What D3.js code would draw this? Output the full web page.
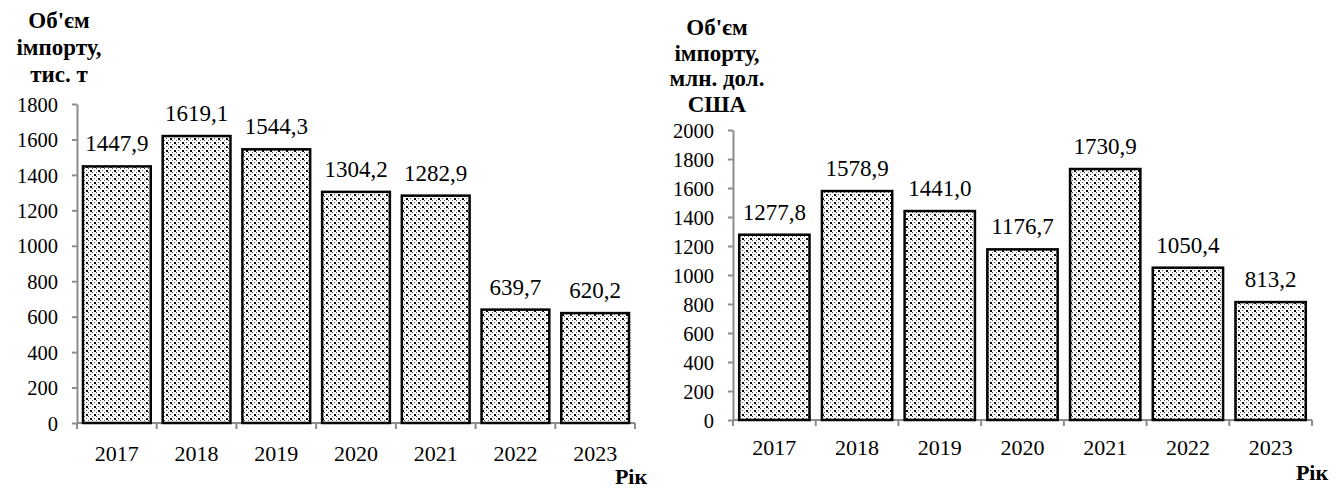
<!DOCTYPE html>
<html>
<head>
<meta charset="utf-8">
<script src="https://cdn.jsdelivr.net/npm/d3@7"></script>
<style>
  body { margin: 0; background: #fff; }
  svg text { font-family: "Liberation Serif", "Times New Roman", Tinos, "DejaVu Serif", serif; fill: #000; }
</style>
</head>
<body>
<svg id="chart" width="1343" height="490"></svg>
<script>
"use strict";

// years shared by both charts
const years = ["2017", "2018", "2019", "2020", "2021", "2022", "2023"];

// import volume, thousand tonnes
const volumeTonnes = [1447.9, 1619.1, 1544.3, 1304.2, 1282.9, 639.7, 620.2];
const tonnesTicks = [0, 200, 400, 600, 800, 1000, 1200, 1400, 1600, 1800];
const tonnesTitle = ["Об'єм", "імпорту,", "тис. т"];

// import volume, million USD
const volumeUsd = [1277.8, 1578.9, 1441.0, 1176.7, 1730.9, 1050.4, 813.2];
const usdTicks = [0, 200, 400, 600, 800, 1000, 1200, 1400, 1600, 1800, 2000];
const usdTitle = ["Об'єм", "імпорту,", "млн. дол.", "США"];

const xTitle = "Рік";

const svg = d3.select("#chart");
const FONT = "\"Liberation Serif\", \"Times New Roman\", Tinos, \"DejaVu Serif\", serif";

// dotted fill like the original hatch
const defs = svg.append("defs");
const pat = defs.append("pattern")
    .attr("id", "dots")
    .attr("patternUnits", "userSpaceOnUse")
    .attr("width", 8)
    .attr("height", 8);
pat.append("rect").attr("width", 8).attr("height", 8).attr("fill", "#fff");
[[2, 2, 2, "#000"], [6, 6, 2, "#000"],
 [0, 0, 1, "#444"], [4, 0, 1, "#666"], [0, 4, 1, "#666"], [4, 4, 1, "#444"],
 [6, 2, 1, "#555"], [2, 6, 1, "#555"]]
    .forEach(([px, py, s, c]) => {
        pat.append("rect").attr("x", px).attr("y", py).attr("width", s).attr("height", s)
            .attr("fill", c).attr("shape-rendering", "crispEdges");
    });

const fmt = v => v.toFixed(1).replace(".", ",");

/**
 * Draws one bar chart panel
 */
function drawPanel(opt)
{
    const g = svg.append("g");

    const x = d3.scaleBand()
        .domain(years)
        .range([opt.x0, opt.x1])
        .paddingInner(0.15)
        .paddingOuter(0.075);

    const y = d3.scaleLinear()
        .domain([0, opt.max])
        .range([opt.y0, opt.y1]);

    // y axis
    const yAxis = g.append("g")
        .attr("transform", "translate(" + opt.x0 + ",0)")
        .call(d3.axisLeft(y).tickValues(opt.ticks).tickFormat(d3.format("d"))
            .tickSize(5).tickPadding(14).tickSizeOuter(0));
    yAxis.selectAll("path, line").attr("stroke", "#8c8c8c").attr("stroke-width", 2);
    yAxis.attr("font-family", null).attr("font-size", null);
    yAxis.selectAll("text")
        .style("font-family", FONT)
        .style("font-size", "20.5px")
        .attr("dy", "0.35em");

    // x axis with ticks on band boundaries
    const xAxis = g.append("g")
        .attr("transform", "translate(0," + opt.y0 + ")");
    xAxis.append("line")
        .attr("x1", opt.x0).attr("x2", opt.x1)
        .attr("stroke", "#8c8c8c").attr("stroke-width", 2);
    const bounds = d3.range(years.length + 1).map(i => opt.x0 + i * (opt.x1 - opt.x0) / years.length);
    xAxis.selectAll("line.tk")
        .data(bounds)
        .join("line")
        .attr("class", "tk")
        .attr("x1", d => d).attr("x2", d => d)
        .attr("y1", 0).attr("y2", 6)
        .attr("stroke", "#8c8c8c").attr("stroke-width", 2);
    xAxis.selectAll("text")
        .data(years)
        .join("text")
        .attr("x", d => x(d) + x.bandwidth() / 2)
        .attr("y", opt.labelDy)
        .attr("text-anchor", "middle")
        .style("font-family", FONT)
        .style("font-size", "22px")
        .text(d => d);

    // bars
    g.selectAll("rect.bar")
        .data(opt.values)
        .join("rect")
        .attr("class", "bar")
        .attr("x", (d, i) => x(years[i]))
        .attr("y", d => y(d))
        .attr("width", x.bandwidth())
        .attr("height", d => opt.y0 - y(d))
        .attr("fill", "url(#dots)")
        .attr("stroke", "#000")
        .attr("stroke-width", 2.5);

    // value labels
    g.selectAll("text.val")
        .data(opt.values)
        .join("text")
        .attr("class", "val")
        .attr("x", (d, i) => x(years[i]) + x.bandwidth() / 2)
        .attr("y", d => y(d) - 15)
        .attr("text-anchor", "middle")
        .style("font-family", FONT)
        .style("font-size", "23px")
        .text(fmt);

    // y title
    g.selectAll("text.ttl")
        .data(opt.title)
        .join("text")
        .attr("class", "ttl")
        .attr("x", opt.titleX)
        .attr("y", (d, i) => opt.titleY + i * opt.titleStep)
        .attr("text-anchor", "middle")
        .style("font-family", FONT)
        .style("font-size", "23px")
        .style("font-weight", "bold")
        .text(d => d);

    // x title
    g.append("text")
        .attr("x", opt.xTitleX)
        .attr("y", opt.xTitleY)
        .attr("text-anchor", "middle")
        .style("font-family", FONT)
        .style("font-size", "22px")
        .style("font-weight", "bold")
        .text(xTitle);
}

drawPanel({
    values: volumeTonnes, ticks: tonnesTicks, max: 1800, title: tonnesTitle,
    x0: 77, x1: 635, y0: 423, y1: 104,
    labelDy: 38, titleX: 59, titleY: 28, titleStep: 27, xTitleX: 631, xTitleY: 484
});

drawPanel({
    values: volumeUsd, ticks: usdTicks, max: 2000, title: usdTitle,
    x0: 733, x1: 1312, y0: 420, y1: 130,
    labelDy: 35, titleX: 717, titleY: 35, titleStep: 25.7, xTitleX: 1312, xTitleY: 480
});
</script>
</body>
</html>
